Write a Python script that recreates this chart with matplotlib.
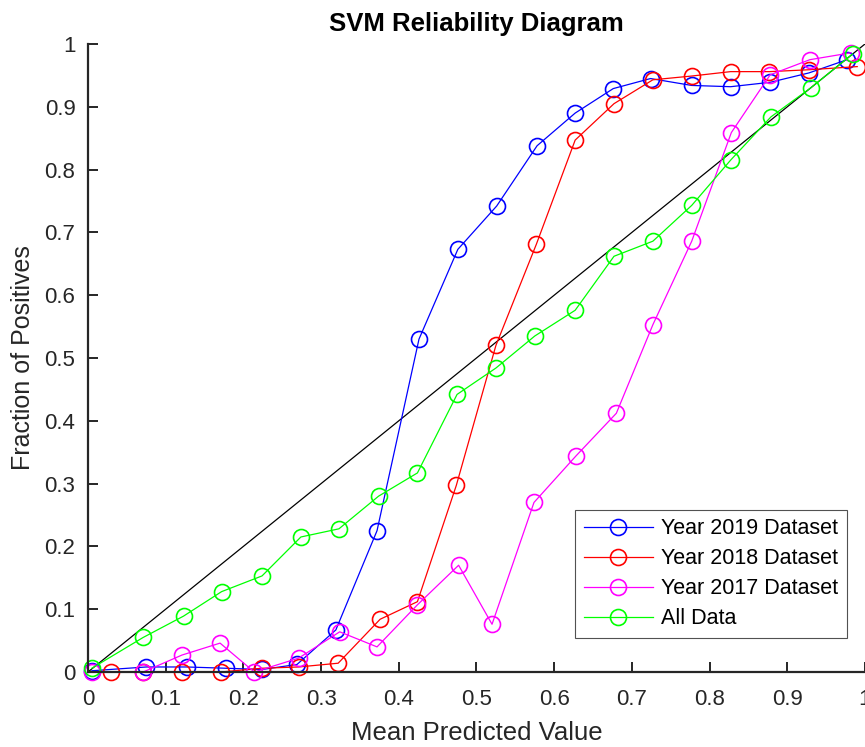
import numpy as np
import matplotlib
matplotlib.use("Agg")
import matplotlib.pyplot as plt

plt.rcParams['font.family'] = ['Liberation Sans', 'DejaVu Sans']

# ====================== data ======================
x_2019 = [0.005, 0.075, 0.127, 0.177, 0.224, 0.269, 0.319, 0.372, 0.426, 0.476,
          0.526, 0.578, 0.627, 0.676, 0.724, 0.777, 0.827, 0.878, 0.928, 0.977]
y_2019 = [0.002, 0.008, 0.008, 0.006, 0.004, 0.012, 0.067, 0.225, 0.530, 0.673,
          0.742, 0.838, 0.890, 0.929, 0.945, 0.934, 0.932, 0.939, 0.954, 0.975]

x_2018 = [0.030, 0.071, 0.121, 0.171, 0.224, 0.271, 0.322, 0.376, 0.424, 0.474,
          0.525, 0.577, 0.627, 0.677, 0.727, 0.777, 0.827, 0.877, 0.928, 0.990]
y_2018 = [0.0, 0.0, 0.0, 0.0, 0.006, 0.008, 0.014, 0.084, 0.112, 0.297,
          0.520, 0.681, 0.847, 0.905, 0.943, 0.949, 0.956, 0.956, 0.959, 0.964]

x_2017 = [0.005, 0.071, 0.121, 0.170, 0.214, 0.271, 0.324, 0.372, 0.424, 0.477,
          0.520, 0.574, 0.628, 0.680, 0.727, 0.777, 0.828, 0.878, 0.929, 0.982]
y_2017 = [0.0, 0.0, 0.027, 0.046, 0.0, 0.022, 0.064, 0.040, 0.107, 0.170,
          0.076, 0.270, 0.344, 0.412, 0.553, 0.686, 0.859, 0.951, 0.975, 0.986]

x_all = [0.005, 0.071, 0.123, 0.172, 0.224, 0.274, 0.323, 0.374, 0.424, 0.475,
         0.525, 0.575, 0.627, 0.677, 0.727, 0.777, 0.827, 0.879, 0.930, 0.984]
y_all = [0.006, 0.055, 0.089, 0.128, 0.153, 0.215, 0.228, 0.280, 0.317, 0.442,
         0.484, 0.535, 0.576, 0.662, 0.686, 0.743, 0.815, 0.884, 0.930, 0.984]

labels = ['Year 2019 Dataset', 'Year 2018 Dataset', 'Year 2017 Dataset', 'All Data']
colors = ['#0000ff', '#ff0000', '#ff00ff', '#00ff00']
ticks = [0, 0.1, 0.2, 0.3, 0.4, 0.5, 0.6, 0.7, 0.8, 0.9, 1]
tick_labels = ['0', '0.1', '0.2', '0.3', '0.4', '0.5', '0.6', '0.7', '0.8', '0.9', '1']

# =========================================================================

fig = plt.figure(figsize=(8.65, 7.47), dpi=100)
ax = fig.add_axes([0.1017, 0.1004, 0.8983, 0.8407])

ax.plot([0, 1], [0, 1], color='black', lw=0.9)

series = [(x_2019, y_2019), (x_2018, y_2018), (x_2017, y_2017), (x_all, y_all)]
for (xs, ys), lab, col in zip(series, labels, colors):
    ax.plot(xs, ys, color=col, lw=0.9, marker='o', markersize=11.5,
            markerfacecolor='none', markeredgecolor=col, markeredgewidth=1.2,
            label=lab, clip_on=False)

ax.set_xlim(0, 1)
ax.set_ylim(0, 1)
ax.set_xticks(ticks)
ax.set_xticklabels(tick_labels)
ax.set_yticks(ticks)
ax.set_yticklabels(tick_labels)

grey = '#262626'
for s in ['top', 'right']:
    ax.spines[s].set_visible(False)
for s in ['left', 'bottom']:
    ax.spines[s].set_linewidth(1.6)
    ax.spines[s].set_color(grey)
ax.tick_params(direction='in', length=7, width=1.4, color=grey,
               labelcolor=grey, labelsize=16)
ax.tick_params(axis='x', pad=12.5)
ax.tick_params(axis='y', pad=9)

ax.set_xlabel('Mean Predicted Value', fontsize=18.5, color=grey, labelpad=8)
ax.set_ylabel('Fraction of Positives', fontsize=18, color=grey, labelpad=7)
ax.set_title('SVM Reliability Diagram', fontsize=18.5, fontweight='bold', pad=9)

leg = ax.legend(loc='lower right', bbox_to_anchor=(0.977, 0.054), fontsize=15.5,
                frameon=True, fancybox=False, borderaxespad=0,
                handlelength=3.2, handletextpad=0.4, labelspacing=0.42,
                borderpad=0.4)
leg.get_frame().set_edgecolor('#262626')
leg.get_frame().set_linewidth(0.8)

fig.savefig('out.png', dpi=100)
